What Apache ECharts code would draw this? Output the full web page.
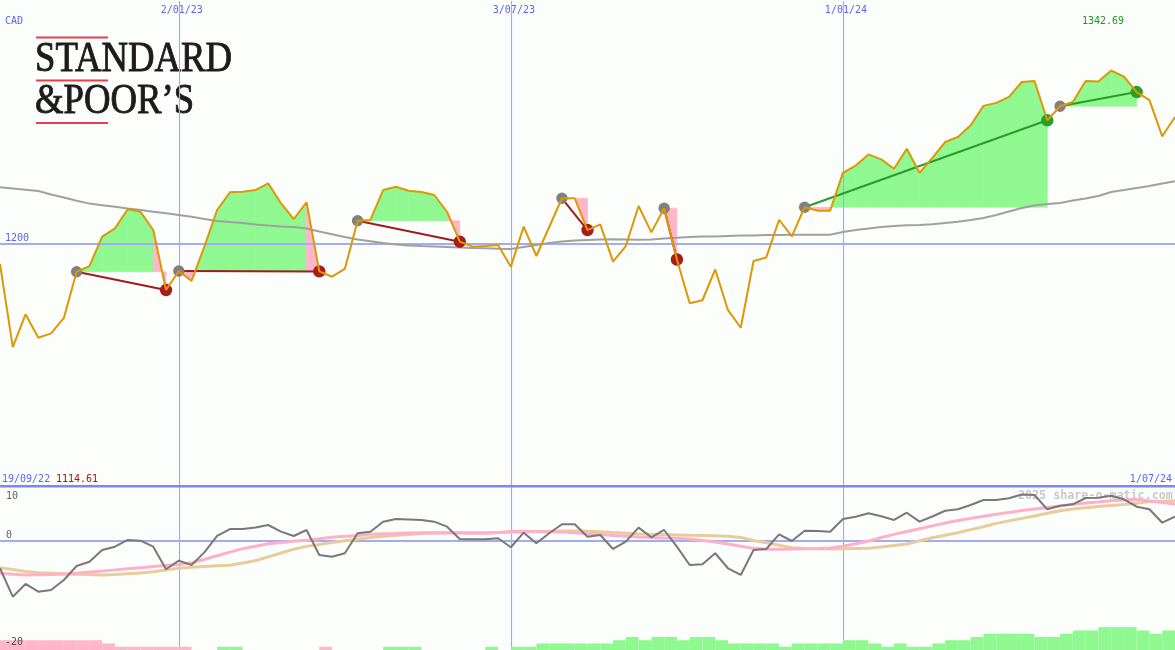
<!DOCTYPE html>
<html><head><meta charset="utf-8">
<script src="https://cdn.jsdelivr.net/npm/echarts@6/dist/echarts.min.js"></script>
<style>html,body{margin:0;padding:0;background:#fcfefc}#c{width:1175px;height:650px}</style>
</head><body><div id="c"></div>
<script>
// ---------- DATA ----------
const weeks = [
'26/09/22','3/10/22','10/10/22','17/10/22','24/10/22','31/10/22','7/11/22','14/11/22','21/11/22','28/11/22','5/12/22','12/12/22','19/12/22','26/12/22',
'2/01/23','9/01/23','16/01/23','23/01/23','30/01/23','6/02/23','13/02/23','20/02/23','27/02/23','6/03/23','13/03/23','20/03/23','27/03/23','3/04/23','10/04/23','17/04/23','24/04/23','1/05/23','8/05/23','15/05/23','22/05/23','29/05/23','5/06/23','12/06/23','19/06/23','26/06/23','3/07/23','10/07/23','17/07/23','24/07/23','31/07/23','7/08/23','14/08/23','21/08/23','28/08/23','4/09/23','11/09/23','18/09/23','25/09/23','2/10/23','9/10/23','16/10/23','23/10/23','30/10/23','6/11/23','13/11/23','20/11/23','27/11/23','4/12/23','11/12/23','18/12/23','25/12/23',
'1/01/24','8/01/24','15/01/24','22/01/24','29/01/24','5/02/24','12/02/24','19/02/24','26/02/24','4/03/24','11/03/24','18/03/24','25/03/24','1/04/24','8/04/24','15/04/24','22/04/24','29/04/24','6/05/24','13/05/24','20/05/24','27/05/24','3/06/24','10/06/24','17/06/24','24/06/24','1/07/24'];

const price = [
1183.1, 1114.61, 1141.6, 1122.3, 1125.9, 1138.6, 1176.7, 1181.4, 1205.6, 1212.5,
1228.2, 1226.2, 1211.1, 1161.6, 1177.3, 1169.1, 1197.4, 1227.6, 1242.2, 1242.7,
1244.1, 1249.6, 1233.2, 1220.2, 1234.0, 1177.0, 1172.6, 1179.0, 1218.8, 1219.4,
1244.1, 1246.8, 1243.5, 1242.5, 1240.0, 1226.2, 1201.5, 1197.4, 1197.9, 1198.8,
1180.9, 1213.9, 1189.7, 1213.6, 1237.3, 1237.3, 1211.1, 1215.8, 1185.0, 1197.9,
1230.9, 1209.2, 1229.1, 1186.8, 1150.8, 1153.2, 1178.6, 1145.0, 1130.5, 1185.6,
1188.5, 1219.6, 1205.9, 1229.9, 1227.1, 1227.1, 1258.3, 1264.3, 1273.5, 1269.4,
1261.6, 1278.2, 1258.3, 1270.7, 1283.7, 1287.8, 1297.5, 1313.5, 1316.0, 1321.0,
1333.2, 1334.0, 1301.6, 1313.2, 1316.7, 1334.0, 1333.6, 1342.69, 1337.7, 1324.9,
1318.2, 1288.4, 1304.3];

const movingAvg = [
1246.3, 1245.4, 1244.4, 1243.3, 1240.4, 1237.9, 1235.2, 1232.9, 1231.6, 1230.3,
1228.9, 1227.6, 1226.2, 1224.9, 1223.5, 1222.1, 1220.2, 1218.6, 1217.7, 1216.9,
1215.7, 1214.8, 1214.0, 1213.6, 1212.4, 1209.9, 1207.6, 1205.3, 1203.3, 1201.9,
1200.5, 1199.2, 1198.4, 1197.9, 1197.5, 1197.1, 1196.7, 1196.3, 1196.0, 1195.6,
1195.5, 1197.1, 1198.8, 1200.4, 1201.6, 1202.5, 1202.9, 1203.3, 1203.5, 1203.3,
1203.1, 1203.3, 1204.1, 1204.7, 1205.4, 1205.8, 1205.8, 1206.2, 1206.6, 1206.6,
1207.0, 1207.0, 1207.2, 1207.2, 1207.2, 1207.2, 1209.5, 1211.1, 1212.4, 1213.6,
1214.4, 1215.0, 1215.3, 1215.8, 1216.9, 1218.0, 1219.4, 1221.0, 1223.5, 1226.4,
1229.3, 1231.3, 1232.6, 1233.4, 1235.5, 1237.1, 1239.2, 1242.5, 1244.1, 1245.8,
1247.4, 1249.5, 1251.4];

const oscMain = [
-7.04, -14.29, -11.05, -13.01, -12.58, -10.03, -6.45, -5.36, -2.37, -1.53,
0.18, 0.0, -1.53, -7.30, -5.10, -6.20, -2.98, 1.20, 2.98, 2.98,
3.37, 4.00, 2.30, 1.20, 2.73, -3.65, -4.08, -3.21, 1.89, 2.30,
4.85, 5.54, 5.41, 5.28, 4.85, 3.57, 0.43, 0.38, 0.36, 0.61,
-1.68, 2.04, -0.66, 1.89, 4.18, 4.18, 1.02, 1.45, -2.12, -0.26,
3.32, 0.87, 2.73, -1.53, -6.20, -6.02, -3.21, -7.04, -8.75, -2.37,
-2.12, 1.63, -0.08, 2.55, 2.47, 2.30, 5.54, 6.12, 6.99, 6.22,
5.28, 7.14, 4.85, 6.17, 7.63, 8.04, 9.11, 10.38, 10.38, 10.82,
11.79, 11.66, 8.01, 8.93, 9.29, 10.89, 10.97, 11.48, 10.56, 8.67,
8.01, 4.59, 6.12];

const oscPink = [
-8.32, -8.57, -8.75, -8.70, -8.62, -8.52, -8.29, -7.98, -7.73, -7.45,
-7.17, -6.89, -6.61, -6.33, -6.07, -5.64, -4.80, -3.83, -2.93, -2.04,
-1.40, -0.79, -0.48, -0.15, 0.10, 0.48, 0.89, 1.12, 1.35, 1.61,
1.76, 1.86, 1.99, 2.02, 1.99, 1.96, 1.94, 1.91, 1.89, 2.07,
2.37, 2.42, 2.35, 2.27, 2.19, 2.02, 1.79, 1.56, 1.30, 1.12,
0.94, 0.79, 0.71, 0.64, 0.41, 0.03, -0.36, -0.84, -1.40, -1.96,
-2.19, -2.17, -2.12, -2.04, -1.99, -1.84, -1.43, -0.77, -0.10, 0.82,
1.61, 2.35, 3.06, 3.78, 4.49, 5.13, 5.69, 6.25, 6.73, 7.22,
7.68, 8.06, 8.44, 8.85, 9.29, 9.64, 9.90, 10.18, 10.38, 10.51,
10.13, 9.74, 9.36];

const oscTan = [
-6.89, -7.37, -7.86, -8.21, -8.34, -8.47, -8.55, -8.65, -8.75, -8.62,
-8.44, -8.27, -7.93, -7.50, -7.04, -6.81, -6.56, -6.38, -6.25, -5.69,
-5.13, -4.13, -3.14, -2.17, -1.45, -0.95, -0.45, -0.03, 0.38, 0.82,
1.15, 1.38, 1.58, 1.81, 2.04, 2.04, 2.04, 2.04, 2.04, 2.09,
2.17, 2.24, 2.32, 2.37, 2.45, 2.47, 2.42, 2.30, 2.09, 1.89,
1.68, 1.61, 1.56, 1.48, 1.40, 1.33, 1.25, 1.15, 0.84, 0.05,
-0.54, -1.17, -1.79, -2.02, -2.07, -2.09, -2.04, -1.99, -1.96, -1.63,
-1.25, -0.84, -0.03, 0.74, 1.38, 2.02, 2.83, 3.57, 4.41, 5.05,
5.69, 6.30, 7.02, 7.65, 8.06, 8.39, 8.72, 8.98, 9.23, 9.57,
9.97, 10.08, 10.20];

const histLevels = [
-3,-3,-3,-3,-3,-3,-3,-3,-2,-1,
-1,-1,-1,-1,-1,0,0,1,1,0,
0,0,0,0,0,-1,0,0,0,0,
1,1,1,0,0,0,0,0,1,0,
1,1,2,2,2,2,2,2,3,4,
3,4,4,3,4,4,3,2,2,2,
2,1,2,2,2,2,3,3,2,1,
2,1,1,2,3,3,4,5,5,5,
5,4,4,5,6,6,7,7,7,6,
5,6,0];

const tradeEntry = [6, 14, 28, 44, 52, 63, 83];
const tradeExit  = [13, 25, 36, 46, 53, 82, 89];

const markedDates = ['2/01/23', '3/07/23', '1/01/24'];
const priceTickLabels = ['1200'];
const oscTickLabels = ['10', '0', '-20'];
const currencyLabel = 'CAD';
const startDateLabel = '19/09/22';
const endDateLabel = '1/07/24';
const watermarkText = '2025 share-o-matic.com';

// ---------- STYLE ----------
const BLUE = '#5a64f0', GRIDBLUE = '#a2acf0', SEPBLUE = '#7a88f0';
const GREEN = '#90f890', PINK = '#ffb6c8';
const MONO = 'DejaVu Sans Mono';
const LOGORED = '#e5404c', LOGOINK = '#1e1a1b';

const maxLabel = Math.max(...price).toFixed(2);
const minLabel = Math.min(...price).toFixed(2);

function fillItem(params, api) {
  const t = params.dataIndex;
  const s = tradeEntry[t], e = tradeExit[t];
  const level = price[s];
  const loss = price[e] <= level;
  const children = [];
  for (let k = s; k < e; k++) {
    const p0 = api.coord([k, price[k]]);
    const p1 = api.coord([k + 1, price[k + 1]]);
    const ly = api.coord([k, level])[1];
    const d0 = price[k] - level, d1 = price[k + 1] - level;
    const last = (k + 1 === e);
    const segs = [];
    if (d0 * d1 < 0) {
      const f = d0 / (d0 - d1);
      const cx = p0[0] + (p1[0] - p0[0]) * f;
      segs.push({ pts: [[p0[0], ly], p0, [cx, ly]], up: d0 > 0 });
      segs.push({ pts: [[cx, ly], p1, [p1[0], ly]], up: d1 > 0 });
    } else if (d0 !== 0 || d1 !== 0) {
      segs.push({ pts: [[p0[0], ly], p0, p1, [p1[0], ly]], up: (d0 + d1) > 0 });
    }
    segs.forEach(sg => {
      const col = (sg.up && !(last && loss)) ? GREEN : PINK;
      children.push({ type: 'polygon', shape: { points: sg.pts },
        style: { fill: col, stroke: col, lineWidth: 0.6 } });
    });
  }
  return { type: 'group', children };
}

function markItem(params, api) {
  const t = params.dataIndex;
  const s = tradeEntry[t], e = tradeExit[t];
  const a = api.coord([s, price[s]]), b = api.coord([e, price[e]]);
  const win = price[e] > price[s];
  return { type: 'group', children: [
    { type: 'line', shape: { x1: a[0], y1: a[1], x2: b[0], y2: b[1] },
      style: { stroke: win ? '#2a9a2a' : '#a01c1c', lineWidth: 2 } },
    { type: 'circle', shape: { cx: a[0], cy: a[1], r: 5.7 }, style: { fill: '#808080' } },
    { type: 'circle', shape: { cx: b[0], cy: b[1], r: 6.2 }, style: { fill: win ? '#28a028' : '#a81c1c' } }
  ] };
}

function histItem(params, api) {
  const i = api.value(0), h = api.value(1), sgn = api.value(2);
  if (!h) return null;
  const base = api.coord([i, 0]);
  const top = api.coord([i, h]);
  const w = api.size([1, 0])[0];
  return { type: 'rect', shape: { x: base[0], y: top[1], width: w, height: base[1] - top[1] },
    style: { fill: sgn > 0 ? GREEN : PINK } };
}

const vLines = markedDates.map(d => ({ xAxis: d, lineStyle: { color: GRIDBLUE, width: 1.2, type: 'solid' } }));

const txt = (text, x, y, color, extra, z) => ({
  type: 'text', x, y, silent: true, z: z === undefined ? 100 : z,
  style: Object.assign({ text, fill: color, fontFamily: MONO, fontSize: 10, align: 'left', verticalAlign: 'middle' }, extra || {})
});

const chart = echarts.init(document.getElementById('c'), null, { renderer: 'canvas' });
chart.setOption({
  animation: false,
  backgroundColor: '#fcfefc',
  grid: [
    { left: 0, right: 0, top: 1, height: 485, outerBoundsMode: 'none' },
    { left: 0, right: 0, top: 487, height: 163, outerBoundsMode: 'none' }
  ],
  xAxis: [
    { type: 'category', gridIndex: 0, data: weeks, boundaryGap: false, position: 'top',
      axisLine: { show: false }, axisTick: { show: false }, splitLine: { show: false },
      axisLabel: { inside: true, interval: (i, v) => markedDates.includes(v), margin: 4,
        fontFamily: MONO, fontSize: 10, color: BLUE, padding: [0, 0, 0, 6] } },
    { type: 'category', gridIndex: 1, data: weeks, boundaryGap: false,
      axisLine: { show: false }, axisTick: { show: false }, splitLine: { show: false }, axisLabel: { show: false } }
  ],
  yAxis: [
    { type: 'value', gridIndex: 0, min: 1000, max: 1400, interval: 200,
      axisLine: { show: false }, axisTick: { show: false }, splitLine: { show: false },
      axisLabel: { inside: true, margin: 5, verticalAlign: 'bottom', color: BLUE, fontFamily: MONO, fontSize: 10,
        formatter: v => priceTickLabels.includes(String(v)) ? String(v) : '' } },
    { type: 'value', gridIndex: 1, min: -27.9, max: 13.7, show: false, splitLine: { show: false } },
    { type: 'value', gridIndex: 1, min: 0, max: 50, show: false, splitLine: { show: false } }
  ],
  series: [
    { type: 'custom', name: 'zones', xAxisIndex: 0, yAxisIndex: 0, z: 1, silent: true,
      renderItem: fillItem, encode: { x: 0, y: 1 },
      data: tradeEntry.map(e => [e, price[e]]) },
    { type: 'line', name: 'average', xAxisIndex: 0, yAxisIndex: 0, z: 2, data: movingAvg,
      symbol: 'none', silent: true, lineStyle: { color: '#a0a0a0', width: 2 },
      markLine: { silent: true, z: 2, symbol: ['none', 'none'], label: { show: false },
        data: [{ yAxis: 1200, lineStyle: { color: GRIDBLUE, width: 2, type: 'solid' } }].concat(vLines) } },
    { type: 'custom', name: 'trades', xAxisIndex: 0, yAxisIndex: 0, z: 3, silent: true,
      renderItem: markItem, encode: { x: 0, y: 1 },
      data: tradeEntry.map(e => [e, price[e]]) },
    { type: 'line', name: 'price', xAxisIndex: 0, yAxisIndex: 0, z: 4, data: price,
      symbol: 'none', silent: true, lineStyle: { color: '#dc9806', width: 2 } },
    { type: 'custom', name: 'histogram', xAxisIndex: 1, yAxisIndex: 2, z: 1, silent: true,
      renderItem: histItem, encode: { x: 0, y: 1 },
      data: histLevels.map((v, i) => [i, Math.abs(v), v]) },
    { type: 'line', name: 'signal2', xAxisIndex: 1, yAxisIndex: 1, z: 2, data: oscTan,
      symbol: 'none', silent: true, lineStyle: { color: '#e8cc9c', width: 3 },
      markLine: { silent: true, z: 1, symbol: ['none', 'none'], label: { show: false },
        data: [{ yAxis: 0, lineStyle: { color: GRIDBLUE, width: 2, type: 'solid' } }].concat(vLines) } },
    { type: 'line', name: 'signal1', xAxisIndex: 1, yAxisIndex: 1, z: 3, data: oscPink,
      symbol: 'none', silent: true, lineStyle: { color: '#ffb0c8', width: 3 } },
    { type: 'line', name: 'oscillator', xAxisIndex: 1, yAxisIndex: 1, z: 4, data: oscMain,
      symbol: 'none', silent: true, lineStyle: { color: '#787878', width: 2 } }
  ],
  graphic: [
    { type: 'rect', silent: true, z: 100, shape: { x: 0, y: 485, width: 1175, height: 2.5 }, style: { fill: SEPBLUE } },
    txt(currencyLabel, 5, 21, BLUE),
    txt(maxLabel, 1082, 21, '#1e961e'),
    txt(startDateLabel, 2, 479, BLUE),
    txt(minLabel, 56, 479, '#a01414'),
    txt(endDateLabel, 1172, 479, BLUE, { align: 'right' }),
    txt(oscTickLabels[0], 6, 496, '#606060'),
    txt(oscTickLabels[1], 6, 535, '#606060'),
    txt(oscTickLabels[2], 5, 642, '#505050'),
    txt(watermarkText, 1018, 496, '#c8c8c8', { fontSize: 11.7, fontWeight: 'bold' }, 0),
    // logo
    { type: 'rect', silent: true, shape: { x: 36, y: 36.5, width: 72, height: 2 }, style: { fill: LOGORED } },
    { type: 'rect', silent: true, shape: { x: 36, y: 79.5, width: 72, height: 2 }, style: { fill: LOGORED } },
    { type: 'rect', silent: true, shape: { x: 36, y: 122, width: 72, height: 2 }, style: { fill: LOGORED } },
    { type: 'text', silent: true, x: 35, y: 59.5, scaleX: 0.86,
      style: { text: 'STANDARD', fontFamily: 'Liberation Serif', fontSize: 42.7, fill: LOGOINK,
        stroke: LOGOINK, lineWidth: 0.9, align: 'left', verticalAlign: 'middle' } },
    { type: 'text', silent: true, x: 35, y: 101.8, scaleX: 0.86,
      style: { text: '&POOR\u2019S', fontFamily: 'Liberation Serif', fontSize: 42.7, fill: LOGOINK,
        stroke: LOGOINK, lineWidth: 0.9, align: 'left', verticalAlign: 'middle' } }
  ]
});
</script>
</body></html>
